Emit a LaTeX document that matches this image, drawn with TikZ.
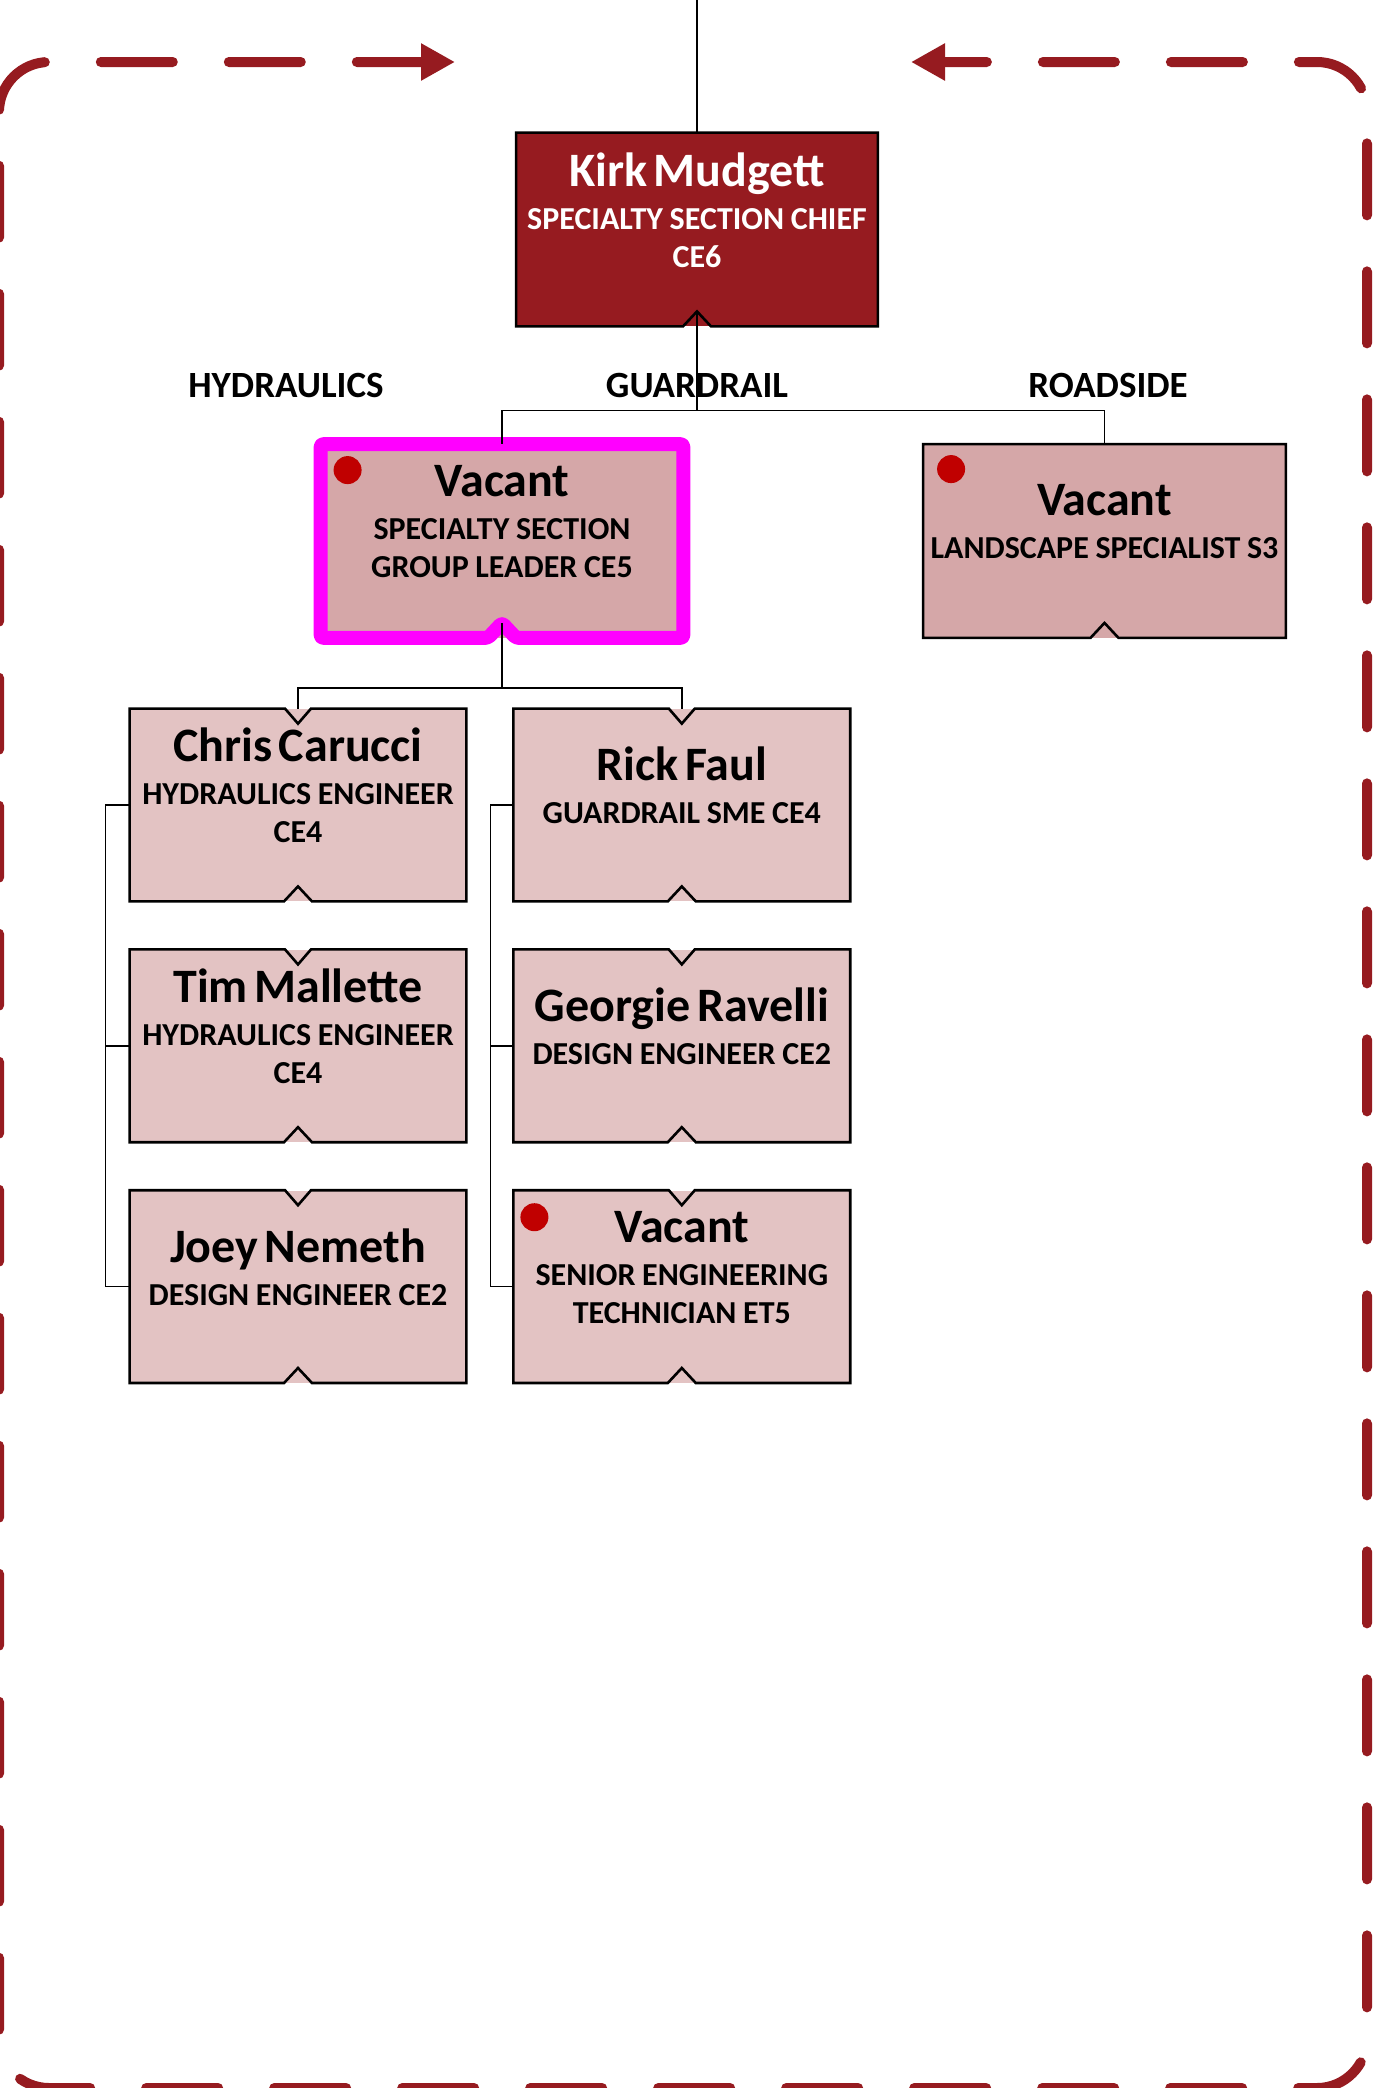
\documentclass[tikz,border=0pt]{standalone}
\usepackage{fontspec}
\setmainfont{Carlito}
\usepackage{xcolor}
\usepackage{tikz}
\usetikzlibrary{positioning,arrows.meta}

\definecolor{chiefred}{RGB}{150,27,32}
\definecolor{leadpink}{RGB}{213,167,168}
\definecolor{staffpink}{RGB}{227,195,195}
\definecolor{dotred}{RGB}{192,0,0}
\definecolor{hilite}{RGB}{255,0,255}

\newcommand{\orgentry}[2]{{\fontsize{24pt}{24pt}\selectfont #1\par}\vspace{2.5pt}{\fontsize{16pt}{19pt}\selectfont #2\par}\kern19.5pt}

\begin{document}
\begin{tikzpicture}[
    x=0.5pt, y=-0.5pt,
    box/.style={rectangle, inner sep=0pt, font=\bfseries, align=center},
    chief/.style={box, fill=chiefred, text=white, minimum width=180.5pt, minimum height=96.5pt, text width=179pt},
    lead/.style={box, fill=leadpink, minimum width=181pt, minimum height=96.5pt, text width=179pt},
    staff/.style={box, fill=staffpink, minimum width=168pt, minimum height=96pt, text width=166pt},
    tag/.style={font=\bfseries\fontsize{18.5pt}{18.5pt}\selectfont},
    link/.style={line width=0.75pt},
    rim/.style={line width=1.3pt, line join=miter},
    frame/.style={chiefred, line width=5pt, line cap=round, dash pattern=on 36pt off 28pt, dash phase=14pt, rounded corners=25pt}
]
    \useasboundingbox (0,0) rectangle (1398,2088);

    % chief and section heads
    \node[chief] (kirk) at (697,229.5) {\orgentry{Kirk Mudgett}{SPECIALTY SECTION CHIEF\\CE6}};
    \node[lead] (leader) at (502,541) {\orgentry{Vacant}{SPECIALTY SECTION\\GROUP LEADER CE5}};
    \node[lead] (landscape) at (1104.5,541) {\orgentry{Vacant}{LANDSCAPE SPECIALIST S3}};

    \node[tag] (hyd) at (286,385) {HYDRAULICS};
    \node[tag] (grd) at (697,385) {GUARDRAIL};
    \node[tag] (road) at (1108,385) {ROADSIDE};

    % staff columns
    \node[staff] (chris) at (298,805) {\orgentry{Chris Carucci}{HYDRAULICS ENGINEER\\CE4}};
    \node[staff, below=24pt of chris] (tim) {\orgentry{Tim Mallette}{HYDRAULICS ENGINEER\\CE4}};
    \node[staff, below=24pt of tim] (joey) {\orgentry{Joey Nemeth}{DESIGN ENGINEER CE2}};
    \node[staff, right=23.5pt of chris] (rick) {\orgentry{Rick Faul}{GUARDRAIL SME CE4}};
    \node[staff, below=24pt of rick] (georgie) {\orgentry{Georgie Ravelli}{DESIGN ENGINEER CE2}};
    \node[staff, below=24pt of georgie] (vacet) {\orgentry{Vacant}{SENIOR ENGINEERING\\TECHNICIAN ET5}};

    % box outlines with notches
    \draw[rim] (kirk.north west) -- (kirk.north east) -- (kirk.south east) -- ([xshift=7pt]kirk.south) -- ([yshift=7.5pt]kirk.south) -- ([xshift=-7pt]kirk.south) -- (kirk.south west) -- cycle;
    \draw[rim] (landscape.north west) -- (landscape.north east) -- (landscape.south east) -- ([xshift=7pt]landscape.south) -- ([yshift=7.5pt]landscape.south) -- ([xshift=-7pt]landscape.south) -- (landscape.south west) -- cycle;
    \draw[hilite, line width=7pt, line join=round, rounded corners=1.5pt] (leader.north west) -- (leader.north east) -- (leader.south east) -- ([xshift=7pt]leader.south) -- ([yshift=7.5pt]leader.south) -- ([xshift=-7pt]leader.south) -- (leader.south west) -- cycle;
    \foreach \n in {chris,tim,joey,rick,georgie,vacet}
        \draw[rim] (\n.north west) -- ([xshift=-6.5pt]\n.north) -- ([yshift=-7.5pt]\n.north) -- ([xshift=6.5pt]\n.north) -- (\n.north east) -- (\n.south east) -- ([xshift=7pt]\n.south) -- ([yshift=7.5pt]\n.south) -- ([xshift=-7pt]\n.south) -- (\n.south west) -- cycle;

    % vacancy marks
    \fill[dotred] ([xshift=13.5pt,yshift=-13pt]leader.north west) circle (7pt);
    \fill[dotred] ([xshift=14pt,yshift=-12.5pt]landscape.north west) circle (7pt);
    \fill[dotred] ([xshift=10.5pt,yshift=-13.5pt]vacet.north west) circle (7pt);

    % reporting lines
    \coordinate (feed) at (697,-2);
    \draw[link] (feed) -- (kirk.north);
    \draw[link] ([yshift=7.5pt]kirk.south) -- ([yshift=-42pt]kirk.south) -| (leader.north);
    \draw[link] ([yshift=-42pt]kirk.south) -| (landscape.north);
    \draw[link] ([yshift=7.5pt]leader.south) -- ([yshift=-25pt]leader.south) -| (chris.north);
    \draw[link] ([yshift=-25pt]leader.south) -| (rick.north);
    \draw[link] (chris.west) -- ([xshift=-12pt]chris.west) |- (tim.west);
    \draw[link] ([xshift=-12pt]chris.west) |- (joey.west);
    \draw[link] (rick.west) -- ([xshift=-11.5pt]rick.west) |- (georgie.west);
    \draw[link] ([xshift=-11.5pt]rick.west) |- (vacet.west);

    % dashed section frame
    \draw[frame, {Triangle[length=17pt,width=17.5pt]}-{Triangle[length=17pt,width=17.5pt]}] (911,62) -- (1367,62) -- (1367,2088) -- (-1,2088) -- (-1,62) -- (455,62);
\end{tikzpicture}
\end{document}
